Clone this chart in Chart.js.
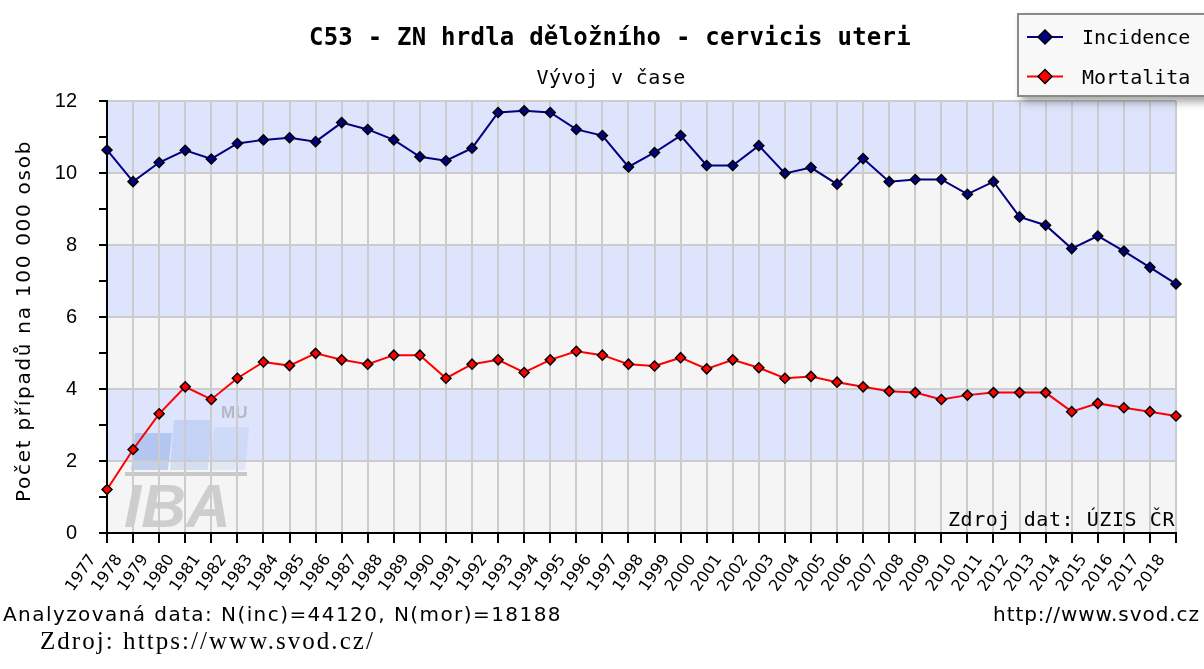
<!DOCTYPE html>
<html>
<head>
<meta charset="utf-8">
<script src="https://cdn.jsdelivr.net/npm/chart.js@4.4.1/dist/chart.umd.min.js"></script>
<style>
  html, body { margin: 0; padding: 0; background: #fff; }
  #wrap { width: 1204px; height: 669px; }
</style>
</head>
<body>
<div id="wrap"><canvas id="chart" width="1204" height="669"></canvas></div>
<script>
// Roky a hodnoty (počet případů na 100 000 osob)
const years = ['1977', '1978', '1979', '1980', '1981', '1982', '1983', '1984', '1985', '1986',
  '1987', '1988', '1989', '1990', '1991', '1992', '1993', '1994', '1995', '1996', '1997',
  '1998', '1999', '2000', '2001', '2002', '2003', '2004', '2005', '2006', '2007', '2008',
  '2009', '2010', '2011', '2012', '2013', '2014', '2015', '2016', '2017', '2018'];

const incidence = [10.64, 9.76, 10.29, 10.63, 10.39, 10.82, 10.92, 10.98, 10.87, 11.40,
  11.21, 10.92, 10.45, 10.34, 10.69, 11.68, 11.73, 11.68, 11.21, 11.04, 10.17,
  10.57, 11.04, 10.21, 10.21, 10.76, 9.99, 10.15, 9.69, 10.40, 9.76, 9.82,
  9.82, 9.41, 9.76, 8.78, 8.55, 7.90, 8.25, 7.83, 7.38, 6.92];

const mortalita = [1.21, 2.32, 3.31, 4.06, 3.71, 4.30, 4.75, 4.65, 4.99, 4.81,
  4.69, 4.94, 4.94, 4.30, 4.69, 4.81, 4.46, 4.81, 5.05, 4.94, 4.69,
  4.64, 4.87, 4.56, 4.81, 4.59, 4.30, 4.35, 4.19, 4.06, 3.94, 3.90,
  3.71, 3.83, 3.90, 3.90, 3.90, 3.37, 3.60, 3.48, 3.37, 3.25];

const yTickLabels = [0, 2, 4, 6, 8, 10, 12];
const seriesNames = ['Incidence', 'Mortalita'];
const seriesColors = ['#000080', '#ff0000'];

const titleText = 'C53 - ZN hrdla děložního - cervicis uteri';
const subtitleText = 'Vývoj v čase';
const yAxisText = 'Počet případů na 100 000 osob';
const sourceInPlot = 'Zdroj dat: ÚZIS ČR';
const footerLeft = 'Analyzovaná data: N(inc)=44120, N(mor)=18188';
const footerRight = 'http://www.svod.cz';
const captionText = 'Zdroj: https://www.svod.cz/';

// text roztažený na danou šířku (písmo v originále je hodně široké)
function fitText(ctx, text, x, y, width, align) {
  ctx.letterSpacing = '0px';
  const natural = ctx.measureText(text).width;
  ctx.letterSpacing = ((width - natural) / text.length).toFixed(2) + 'px';
  let left = x;
  if (align === 'center') left = x - width / 2;
  if (align === 'right') left = x - width;
  ctx.textAlign = 'left';
  ctx.fillText(text, left, y);
  ctx.letterSpacing = '0px';
}

function drawWatermark(ctx) {
  const bar = (x0, x1, top, color) => {
    ctx.fillStyle = color;
    ctx.beginPath();
    ctx.moveTo(x0, 470);
    ctx.lineTo(x0 + 4, top);
    ctx.lineTo(x1 + 4, top);
    ctx.lineTo(x1, 470);
    ctx.closePath();
    ctx.fill();
  };
  bar(131, 168, 433, 'rgba(110,150,225,0.38)');
  bar(170, 208, 420, 'rgba(130,165,230,0.28)');
  bar(210, 245, 427, 'rgba(150,180,235,0.2)');
  ctx.fillStyle = '#c9c9c9';
  ctx.fillRect(125, 472, 122, 4);
  ctx.fillStyle = 'rgba(190,190,190,0.7)';
  ctx.font = 'italic bold 62px "Liberation Sans"';
  ctx.textAlign = 'left';
  ctx.textBaseline = 'alphabetic';
  ctx.fillText('IBA', 124, 527);
  ctx.fillStyle = '#b4b9c8';
  ctx.font = 'bold 17px "Liberation Sans"';
  ctx.fillText('MU', 221, 418);
}

const background = {
  id: 'background',
  beforeDraw(chart) {
    const { ctx, chartArea: a, scales: { y } } = chart;
    ctx.save();
    ctx.fillStyle = '#f5f5f5';
    ctx.fillRect(a.left, a.top, a.width, a.height);
    ctx.fillStyle = '#dde4fb';
    [[10, 12], [6, 8], [2, 4]].forEach(([lo, hi]) => {
      const t = y.getPixelForValue(hi);
      const b = y.getPixelForValue(lo);
      ctx.fillRect(a.left, t, a.width, b - t);
    });
    drawWatermark(ctx);
    ctx.restore();
  }
};

const texts = {
  id: 'texts',
  afterDraw(chart) {
    const ctx = chart.ctx;
    ctx.save();
    ctx.fillStyle = '#000';
    ctx.textBaseline = 'alphabetic';

    ctx.font = 'bold 24px "DejaVu Sans Mono"';
    fitText(ctx, titleText, 610, 45, 602, 'center');
    ctx.font = '20px "DejaVu Sans Mono"';
    fitText(ctx, subtitleText, 611, 84, 149, 'center');
    fitText(ctx, sourceInPlot, 948, 526, 227, 'left');

    // popisek osy y
    ctx.save();
    ctx.translate(30, 321);
    ctx.rotate(-Math.PI / 2);
    ctx.font = '20px "DejaVu Sans"';
    fitText(ctx, yAxisText, 0, 0, 362, 'center');
    ctx.restore();

    ctx.font = '20px "DejaVu Sans"';
    fitText(ctx, footerLeft, 3, 621, 559, 'left');
    fitText(ctx, footerRight, 1200, 621, 207, 'right');
    ctx.font = '25px "Liberation Serif"';
    fitText(ctx, captionText, 40, 649, 335, 'left');

    // legenda
    ctx.save();
    ctx.shadowColor = 'rgba(0,0,0,0.35)';
    ctx.shadowBlur = 8;
    ctx.shadowOffsetX = 5;
    ctx.shadowOffsetY = 5;
    ctx.fillStyle = '#f8f8f8';
    ctx.fillRect(1017, 13, 210, 84);
    ctx.restore();
    ctx.strokeStyle = '#8a8a8a';
    ctx.lineWidth = 2;
    ctx.strokeRect(1018, 14, 210, 82);
    seriesNames.forEach((name, i) => {
      const cy = 37 + i * 39.5;
      ctx.strokeStyle = seriesColors[i];
      ctx.lineWidth = 2;
      ctx.beginPath();
      ctx.moveTo(1027, cy);
      ctx.lineTo(1063, cy);
      ctx.stroke();
      ctx.beginPath();
      ctx.moveTo(1045, cy - 7);
      ctx.lineTo(1052, cy);
      ctx.lineTo(1045, cy + 7);
      ctx.lineTo(1038, cy);
      ctx.closePath();
      ctx.fillStyle = seriesColors[i];
      ctx.fill();
      ctx.strokeStyle = '#000';
      ctx.lineWidth = 1.5;
      ctx.stroke();
      ctx.fillStyle = '#000';
      ctx.font = '20px "DejaVu Sans Mono"';
      ctx.textAlign = 'left';
      ctx.fillText(name, 1082, cy + 7);
    });
    ctx.restore();
  }
};

const ctx = document.getElementById('chart').getContext('2d');
new Chart(ctx, {
  type: 'line',
  data: {
    labels: years,
    datasets: [incidence, mortalita].map((values, i) => ({
      label: seriesNames[i],
      data: values,
      borderColor: seriesColors[i],
      backgroundColor: seriesColors[i],
      borderWidth: 2,
      tension: 0,
      pointStyle: 'rectRot',
      pointRadius: 5,
      pointBackgroundColor: seriesColors[i],
      pointBorderColor: '#000',
      pointBorderWidth: 1.5,
      clip: false
    }))
  },
  options: {
    responsive: false,
    animation: false,
    devicePixelRatio: 1,
    layout: { padding: { top: 101, right: 28, bottom: 69, left: 0 } },
    scales: {
      x: {
        offset: false,
        grid: { color: '#cccccc', lineWidth: 2, tickColor: '#000', tickLength: 10, tickWidth: 2 },
        border: { color: '#000', width: 2 },
        ticks: {
          autoSkip: false,
          minRotation: 55,
          maxRotation: 55,
          color: '#000',
          font: { family: 'DejaVu Sans', size: 16 },
          padding: 8,
          labelOffset: -14
        },
        afterFit(s) { s.height = 67; }
      },
      y: {
        min: 0,
        max: 12,
        grid: {
          color: c => yTickLabels.includes(c.tick.value) ? '#cccccc' : 'rgba(0,0,0,0)',
          lineWidth: 2,
          tickColor: '#000',
          tickLength: 8,
          tickWidth: 2
        },
        border: { color: '#000', width: 2 },
        ticks: {
          stepSize: 1,
          callback: v => yTickLabels.includes(v) ? String(v) : '',
          color: '#000',
          font: { family: 'Liberation Sans', size: 20 },
          padding: 22
        },
        afterFit(s) { s.width = 107; }
      }
    },
    plugins: {
      legend: { display: false },
      tooltip: { enabled: false }
    }
  },
  plugins: [background, texts]
});
</script>
</body>
</html>
